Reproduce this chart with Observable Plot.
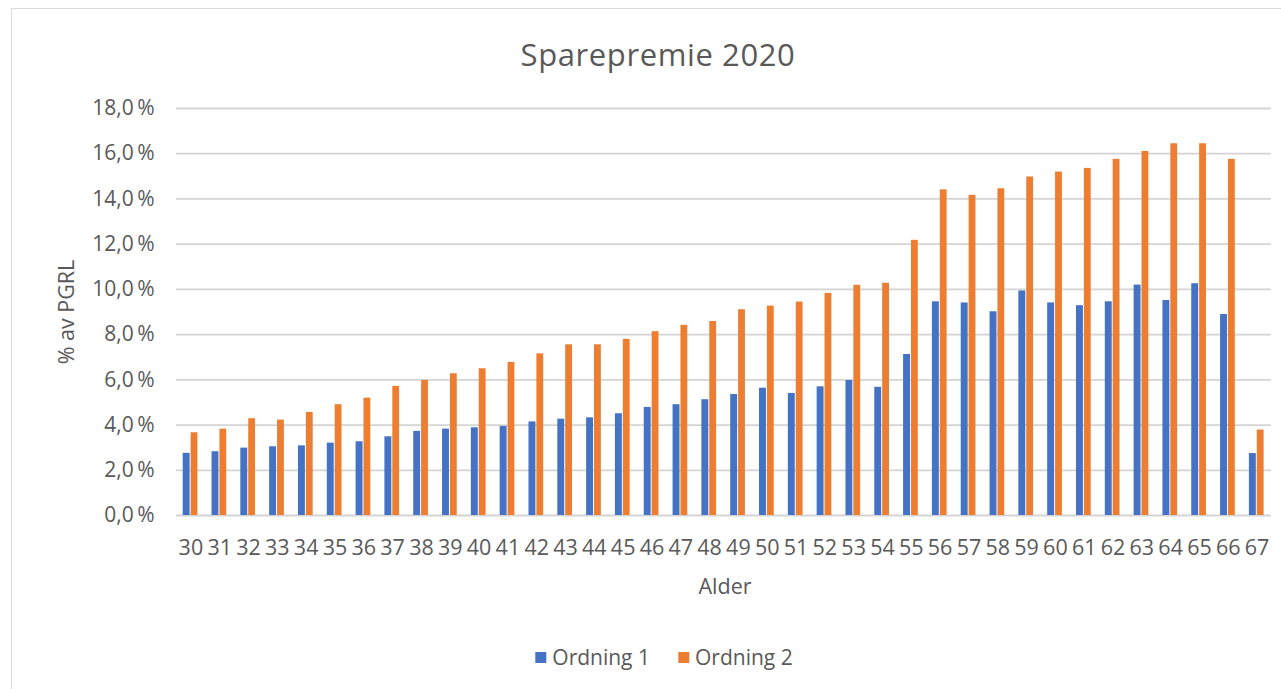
<!DOCTYPE html>
<html>
<head>
<meta charset="utf-8">
<script src="https://cdn.jsdelivr.net/npm/d3@7"></script>
<script src="https://cdn.jsdelivr.net/npm/@observablehq/plot@0.6"></script>
<style>
  html, body { margin: 0; padding: 0; background: #fff; }
  #wrap { position: relative; width: 1281px; height: 689px; overflow: hidden; font-family: "Open Sans", sans-serif; color: #595959; }
  #frame { position: absolute; left: 11px; top: 8px; width: 1290px; height: 700px; border: 1.5px solid #d9d9d9; box-sizing: border-box; }
  #chart { position: absolute; left: 0; top: 0; }
  .lbl { position: absolute; white-space: nowrap; }
  #title { left: 658px; top: 54px; transform: translate(-50%, -50%); font-size: 31px; letter-spacing: 0.6px; }
  #xlab { left: 725px; top: 585px; transform: translate(-50%, -50%); font-size: 21.5px; }
  #ylab { left: 65px; top: 312px; transform: translate(-50%, -50%) rotate(-90deg); font-size: 21.5px; }
  #legend { left: 664px; top: 657px; transform: translate(-50%, -50%); font-size: 21px; display: flex; align-items: center; }
  .sw { display: inline-block; width: 11px; height: 11px; margin-right: 6px; }
  .item { display: inline-flex; align-items: center; margin: 0 14px; }
</style>
</head>
<body>
<div id="wrap">
  <div id="frame"></div>
  <div id="chart"></div>
  <div id="title" class="lbl"></div>
  <div id="ylab" class="lbl"></div>
  <div id="xlab" class="lbl"></div>
  <div id="legend" class="lbl"></div>
</div>
<script>
const titleText = "Sparepremie 2020";
const xTitle = "Alder";
const yTitle = "% av PGRL";
const seriesNames = ["Ordning 1", "Ordning 2"];
const seriesColors = ["#4472C4", "#ED7D31"];
const ages = [30,31,32,33,34,35,36,37,38,39,40,41,42,43,44,45,46,47,48,49,50,51,52,53,54,55,56,57,58,59,60,61,62,63,64,65,66,67];
const ordning1 = [2.75,2.82,2.98,3.04,3.08,3.2,3.26,3.48,3.72,3.82,3.88,3.94,4.14,4.26,4.32,4.5,4.78,4.9,5.12,5.35,5.63,5.4,5.69,5.97,5.67,7.12,9.45,9.4,9.01,9.93,9.4,9.28,9.45,10.19,9.51,10.25,8.89,2.74];
const ordning2 = [3.66,3.82,4.28,4.22,4.56,4.9,5.19,5.71,5.97,6.27,6.49,6.77,7.15,7.55,7.55,7.79,8.13,8.41,8.58,9.1,9.26,9.44,9.82,10.18,10.27,12.17,14.4,14.16,14.45,14.97,15.19,15.35,15.75,16.1,16.44,16.44,15.75,3.78];
const yTicks = [0,2,4,6,8,10,12,14,16,18];

const data = ages.map((a, i) => ({age: a, v1: ordning1[i], v2: ordning2[i]}));
const fmt = d => d.toFixed(1).replace(".", ",") + "\u2009%";

const chart = Plot.plot({
  width: 1281,
  height: 689,
  marginLeft: 176,
  marginRight: 10,
  marginTop: 108,
  marginBottom: 174,
  style: {fontFamily: "Open Sans, sans-serif", fontSize: "21px", color: "#595959", background: "transparent"},
  x: {type: "band", domain: ages, padding: 0},
  y: {domain: [0, 18]},
  marks: [
    Plot.ruleY(yTicks, {stroke: "#d4d4d4", strokeWidth: 1.8}),
    Plot.barY(data, {x: "age", y: "v1", fill: seriesColors[0], insetLeft: 6.7, insetRight: 15.2}),
    Plot.barY(data, {x: "age", y: "v2", fill: seriesColors[1], insetLeft: 14.6, insetRight: 7.4}),
    Plot.axisY({ticks: yTicks, tickSize: 0, tickPadding: 22, tickFormat: fmt, label: null}),
    Plot.axisX({tickSize: 0, tickPadding: 24, label: null, fontSize: "21.5px"})
  ]
});
document.getElementById("chart").appendChild(chart);
document.getElementById("title").textContent = titleText;
document.getElementById("xlab").textContent = xTitle;
document.getElementById("ylab").textContent = yTitle;
const leg = document.getElementById("legend");
seriesNames.forEach((n, i) => {
  const it = document.createElement("span");
  it.className = "item";
  const sw = document.createElement("span");
  sw.className = "sw";
  sw.style.background = seriesColors[i];
  it.appendChild(sw);
  it.appendChild(document.createTextNode(n));
  leg.appendChild(it);
});
</script>
</body>
</html>
